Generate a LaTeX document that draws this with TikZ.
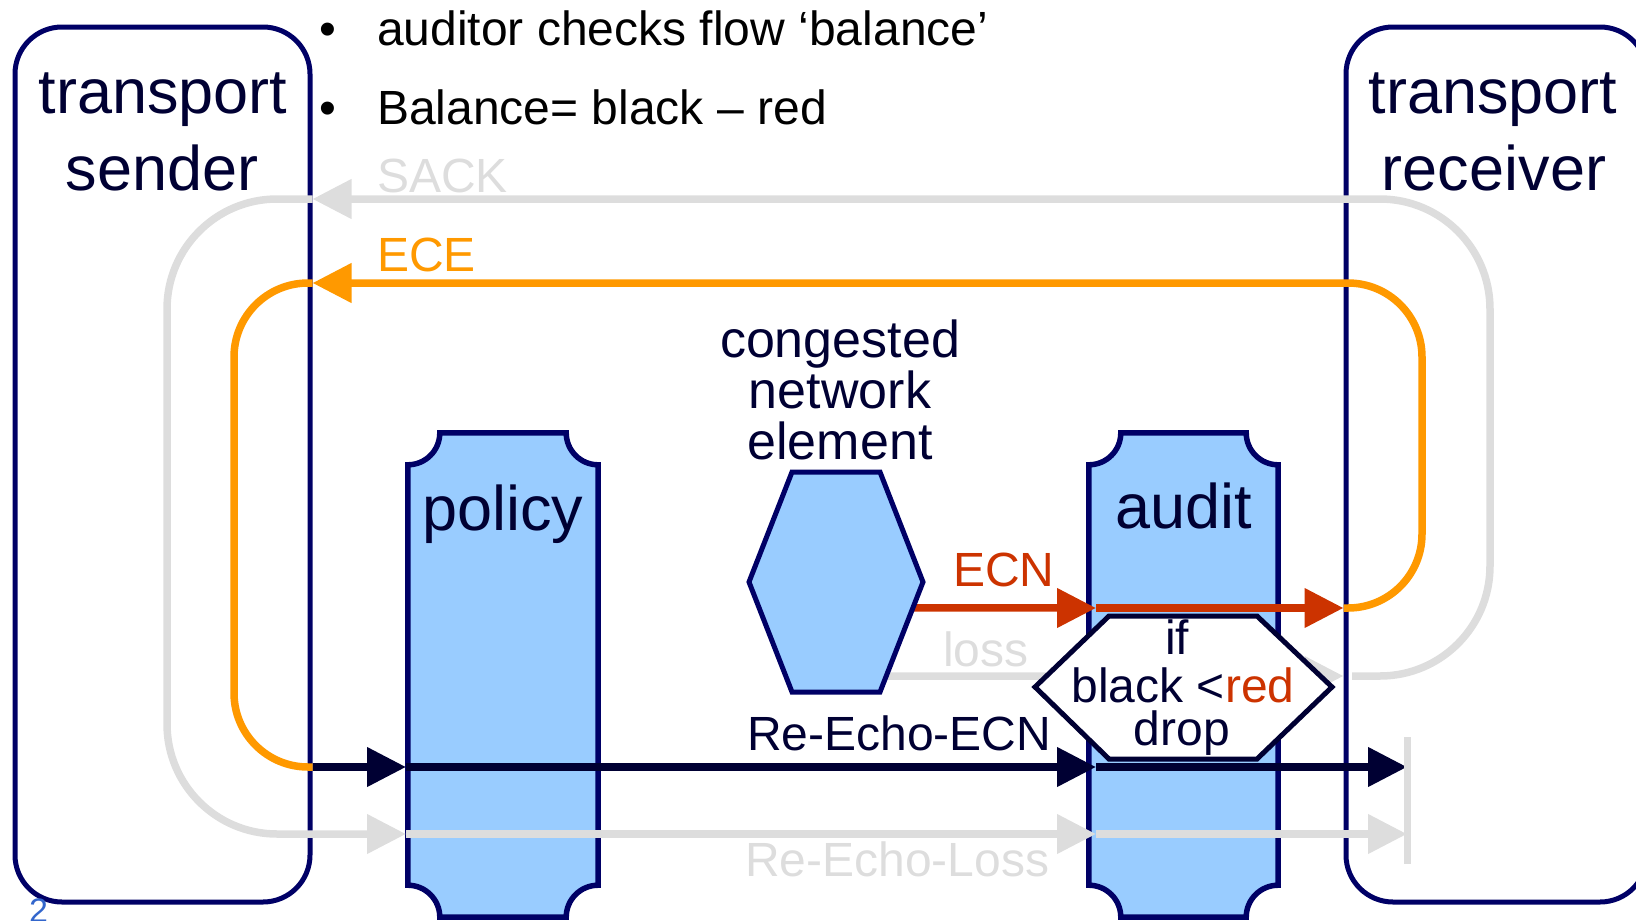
\documentclass[tikz,border=0pt]{standalone}
\usepackage{fontspec}
\setmainfont{Liberation Sans}
\usetikzlibrary{arrows.meta,calc}

\definecolor{navyline}{HTML}{000066}
\definecolor{inkblue}{HTML}{000033}
\definecolor{boxfill}{HTML}{99CCFF}
\definecolor{ackgray}{HTML}{DDDDDD}
\definecolor{eceorange}{HTML}{FF9900}
\definecolor{ecnred}{HTML}{CC3300}
\definecolor{slideblue}{HTML}{3366CC}

% box with concave quarter-circle notches in its four corners
\newcommand\notchoutline[1]{%
  \filldraw[notchbox]
    ($(#1.north west)+(32,0)$) -- ($(#1.north east)+(-32,0)$)
    .. controls +(0,17.7) and +(-17.7,0) .. ($(#1.north east)+(0,32)$)
    -- ($(#1.south east)+(0,-32)$)
    .. controls +(-17.7,0) and +(0,-17.7) .. ($(#1.south east)+(-32,0)$)
    -- ($(#1.south west)+(32,0)$)
    .. controls +(0,-17.7) and +(17.7,0) .. ($(#1.south west)+(0,-32)$)
    -- ($(#1.north west)+(0,32)$)
    .. controls +(17.7,0) and +(0,17.7) .. ($(#1.north west)+(32,0)$)
    -- cycle;}

\begin{document}
\begin{tikzpicture}[x=1pt, y=-1pt,
  endbox/.style={draw=navyline, line width=5pt, rounded corners=47pt,
    inner sep=0pt, minimum height=875pt, minimum width=#1},
  zonebox/.style={inner sep=0pt, minimum height=484pt, minimum width=#1},
  notchbox/.style={draw=navyline, fill=boxfill, line width=5.5pt, line join=miter},
  routerbox/.style={draw=navyline, fill=boxfill, line width=5pt, line join=miter},
  rulebox/.style={draw=inkblue, fill=white, line width=5pt, line join=miter},
  flowline/.style={line width=7.5pt},
  flowtip/.style={-{Triangle[length=39pt,width=38pt]}},
  txt/.style={inner sep=0pt, anchor=base west, font=\fontsize{48}{55}\selectfont},
  ctxt/.style={inner sep=0pt, anchor=base, font=\fontsize{48}{55}\selectfont, text=inkblue},
  midtxt/.style={inner sep=0pt, anchor=base, font=\fontsize{52}{60}\selectfont, text=inkblue},
  bigtxt/.style={inner sep=0pt, anchor=base, font=\fontsize{63}{75}\selectfont, text=inkblue}]

\useasboundingbox (0,0) rectangle (1636,921);
\clip (0,0) rectangle (1636,921);

% heights of the flows
\coordinate (lvSACK) at (0,199);
\coordinate (lvECE)  at (0,283);
\coordinate (lvECN)  at (0,608);
\coordinate (lvLOSS) at (0,676);
\coordinate (lvRE)   at (0,767);
\coordinate (lvREL)  at (0,834);
% columns where the forward arrows end
\coordinate (xPol) at (406,0);
\coordinate (xAud) at (1096,0);
\coordinate (xBar) at (1407,0);

% end points and middle boxes
\node[endbox=295pt] (sender)   at (162.5,464.5) {};
\node[endbox=301pt] (receiver) at (1496.5,464.5) {};
\node[zonebox=190pt] (policy) at (503,675) {};
\node[zonebox=189pt] (audit)  at (1183.5,675) {};
\notchoutline{policy}
\notchoutline{audit}

% congested network element corners
\path (749,582) coordinate (ne-w)  (792,472) coordinate (ne-nw)
      (880,472) coordinate (ne-ne) (923,582) coordinate (ne-e)
      (880,692) coordinate (ne-se) (792,692) coordinate (ne-sw);
\coordinate (ne-ecn)  at ($(ne-e)!0.236!(ne-se)$);
\coordinate (ne-loss) at ($(ne-e)!0.855!(ne-se)$);

% loss, partly hidden behind the audit rule
\draw[flowline, ackgray, flowtip] (ne-loss) -- (receiver.west |- lvLOSS);

% audit rule
\filldraw[rulebox] (1035,687) -- (1109,616) -- (1257,616) -- (1332,687)
  -- (1257,759) -- (1109,759) -- cycle;

% ECN marking towards the receiver
\draw[flowline, ecnred, flowtip] (ne-ecn) -- (xAud |- lvECN);
\draw[flowline, ecnred, flowtip] (xAud |- lvECN) -- (receiver.west |- lvECN);

% ECE feedback loop
\draw[flowline, eceorange, flowtip, rounded corners=74pt]
  (receiver.west |- lvECN) -- (1422,608) -- (1422,283) -- (sender.east |- lvECE);
\draw[flowline, eceorange, rounded corners=74pt]
  (sender.east |- lvECE) -- (234,283) -- (234,767) -- (sender.east |- lvRE);

% Re-Echo-ECN
\draw[flowline, inkblue, flowtip] (sender.east |- lvRE) -- (xPol |- lvRE);
\draw[flowline, inkblue, flowtip] (xPol |- lvRE) -- (xAud |- lvRE);
\draw[flowline, inkblue, flowtip] (xAud |- lvRE) -- (xBar |- lvRE);

% SACK loop and Re-Echo-Loss
\coordinate (sackStart) at (1352,676);
\draw[flowline, ackgray, flowtip, rounded corners=110pt]
  (sackStart) -- (1490,676) -- (1490,199) -- (sender.east |- lvSACK);
\draw[flowline, ackgray, flowtip, rounded corners=110pt]
  (sender.east |- lvSACK) -- (167,199) -- (167,834) -- (xPol |- lvREL);
\draw[flowline, ackgray, flowtip] (xPol |- lvREL) -- (xAud |- lvREL);
\draw[flowline, ackgray, flowtip] (xAud |- lvREL) -- (xBar |- lvREL);
\coordinate (barTop) at (1407,737);
\coordinate (barBot) at (1407,864);
\draw[ackgray, line width=7pt] (barTop) -- (barBot);

% congested network element
\filldraw[routerbox] (ne-w) -- (ne-nw) -- (ne-ne) -- (ne-e) -- (ne-se) -- (ne-sw) -- cycle;

% labels
\node[bigtxt] (snd1) at (163,113) {transport};
\node[bigtxt] (snd2) at (162,190) {sender};
\node[bigtxt] (rcv1) at (1493,113) {transport};
\node[bigtxt] (rcv2) at (1494,190) {receiver};
\node[bigtxt] (pollbl) at (503,530) {policy};
\node[bigtxt] (audlbl) at (1183.5,528) {audit};

\node[midtxt] (ne1) at (840,357) {congested};
\node[midtxt] (ne2) at (840,408) {network};
\node[midtxt] (ne3) at (840,459) {element};

\node[txt] (bul1) at (319,45) {\textbullet};
\node[txt] (bul2) at (319,124) {\textbullet};
\node[txt] (note1) at (377,45) {auditor checks flow ‘balance’};
\node[txt] (note2) at (377,124) {Balance= black – red};

\node[txt, text=ackgray] (sacklbl) at (377,192) {SACK};
\node[txt, text=eceorange] (ecelbl) at (377,271) {ECE};
\node[txt, text=ecnred] (ecnlbl) at (953,586) {ECN};
\node[txt, text=ackgray] (losslbl) at (943,666) {loss};
\node[txt, text=inkblue] (relbl) at (747,750) {Re-Echo-ECN};
\node[txt, text=ackgray] (rellbl) at (745,876) {Re-Echo-Loss};

\node[ctxt] (rule1) at (1177,654) {if};
\node[ctxt] (rule2) at (1183,702) {black <\textcolor{ecnred}{red}};
\node[ctxt] (rule3) at (1182,745) {drop};

\node[txt, text=slideblue, font=\fontsize{34}{40}\selectfont] (slideno) at (29,922) {2};
\end{tikzpicture}
\end{document}
